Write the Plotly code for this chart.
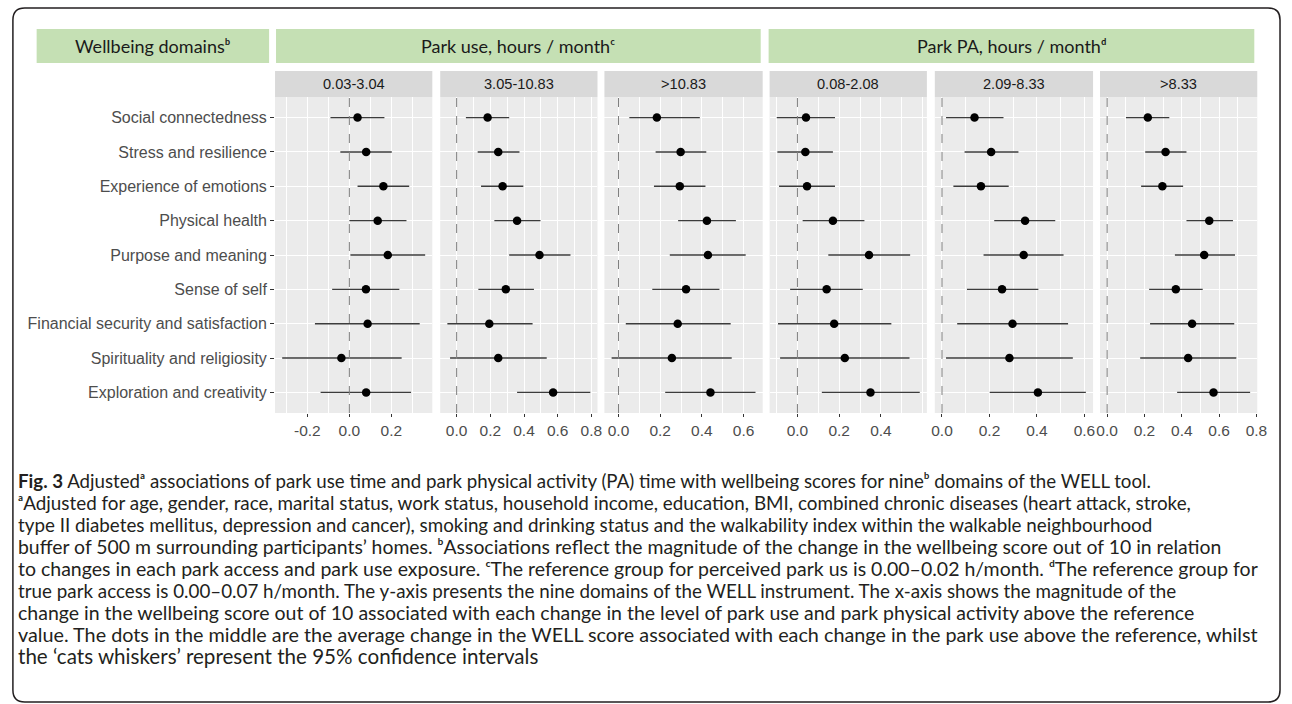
import numpy as np
import plotly.graph_objects as go

W, H = 1292, 704

# ---------------- data ----------------
domains = [
    "Social connectedness",
    "Stress and resilience",
    "Experience of emotions",
    "Physical health",
    "Purpose and meaning",
    "Sense of self",
    "Financial security and satisfaction",
    "Spirituality and religiosity",
    "Exploration and creativity",
]

groups = ["0.03-3.04", "3.05-10.83", ">10.83", "0.08-2.08", "2.09-8.33", ">8.33"]

est_use1 = [0.039, 0.080, 0.162, 0.135, 0.183, 0.079, 0.087, -0.038, 0.080]
lo_use1 = [-0.090, -0.043, 0.039, 0.000, 0.005, -0.082, -0.164, -0.320, -0.137]
hi_use1 = [0.167, 0.202, 0.285, 0.272, 0.361, 0.238, 0.335, 0.249, 0.294]

est_use2 = [0.184, 0.247, 0.273, 0.359, 0.492, 0.292, 0.194, 0.247, 0.573]
lo_use2 = [0.055, 0.125, 0.145, 0.224, 0.312, 0.129, -0.055, -0.039, 0.359]
hi_use2 = [0.312, 0.373, 0.396, 0.498, 0.676, 0.459, 0.451, 0.535, 0.794]

est_use3 = [0.184, 0.298, 0.294, 0.424, 0.429, 0.324, 0.284, 0.256, 0.441]
lo_use3 = [0.052, 0.178, 0.170, 0.286, 0.246, 0.162, 0.035, -0.033, 0.224]
hi_use3 = [0.390, 0.421, 0.417, 0.563, 0.610, 0.484, 0.538, 0.543, 0.657]

est_pa1 = [0.041, 0.038, 0.046, 0.170, 0.343, 0.140, 0.176, 0.227, 0.350]
lo_pa1 = [-0.099, -0.096, -0.088, 0.025, 0.148, -0.035, -0.093, -0.083, 0.117]
hi_pa1 = [0.180, 0.170, 0.180, 0.321, 0.540, 0.313, 0.450, 0.537, 0.586]

est_pa2 = [0.137, 0.207, 0.164, 0.350, 0.344, 0.253, 0.297, 0.284, 0.404]
lo_pa2 = [0.017, 0.095, 0.048, 0.220, 0.175, 0.105, 0.064, 0.017, 0.201]
hi_pa2 = [0.259, 0.322, 0.281, 0.477, 0.512, 0.406, 0.531, 0.551, 0.606]

est_pa3 = [0.218, 0.313, 0.296, 0.547, 0.520, 0.368, 0.455, 0.434, 0.570]
lo_pa3 = [0.101, 0.204, 0.182, 0.425, 0.363, 0.225, 0.230, 0.177, 0.375]
hi_pa3 = [0.333, 0.425, 0.407, 0.674, 0.685, 0.512, 0.681, 0.692, 0.766]

tick_vals = [
    [-0.2, 0.0, 0.2],
    [0.0, 0.2, 0.4, 0.6, 0.8],
    [0.0, 0.2, 0.4, 0.6],
    [0.0, 0.2, 0.4],
    [0.0, 0.2, 0.4, 0.6],
    [0.0, 0.2, 0.4, 0.6, 0.8],
]

header_labels = [
    "Wellbeing domainsᵇ",
    "Park use, hours / monthᶜ",
    "Park PA, hours / monthᵈ",
]

caption_lines = [
    "<b>Fig. 3</b> Adjustedᵃ associations of park use time and park physical activity (PA) time with wellbeing scores for nineᵇ domains of the WELL tool.",
    "ᵃAdjusted for age, gender, race, marital status, work status, household income, education, BMI, combined chronic diseases (heart attack, stroke,",
    "type II diabetes mellitus, depression and cancer), smoking and drinking status and the walkability index within the walkable neighbourhood",
    "buffer of 500 m surrounding participants’ homes. ᵇAssociations reflect the magnitude of the change in the wellbeing score out of 10 in relation",
    "to changes in each park access and park use exposure. ᶜThe reference group for perceived park us is 0.00–0.02 h/month. ᵈThe reference group for",
    "true park access is 0.00–0.07 h/month. The y-axis presents the nine domains of the WELL instrument. The x-axis shows the magnitude of the",
    "change in the wellbeing score out of 10 associated with each change in the level of park use and park physical activity above the reference",
    "value. The dots in the middle are the average change in the WELL score associated with each change in the park use above the reference, whilst",
    "the ‘cats whiskers’ represent the 95% confidence intervals",
]

panels = [
    (est_use1, lo_use1, hi_use1),
    (est_use2, lo_use2, hi_use2),
    (est_use3, lo_use3, hi_use3),
    (est_pa1, lo_pa1, hi_pa1),
    (est_pa2, lo_pa2, hi_pa2),
    (est_pa3, lo_pa3, hi_pa3),
]

# ---------------- layout geometry (pixels) ----------------
def fx(x):
    return x / W

def fy(y):
    return 1 - y / H

panel_px = [(274, 433), (441, 600), (607, 767), (774, 933), (941, 1101), (1108, 1267)]
plot_top, plot_bot = 97, 413
strip_top = 71
header_boxes = [(33, 268), (275, 765), (773, 1264)]
header_top, header_bot = 29, 63
caption_y = [481, 502.5, 524, 546, 568, 590, 612, 634, 656]
caption_size = [18.7, 18.85, 18.8, 19.4, 19.5, 18.8, 19.5, 19.8, 20.6]

AXIS_FONT = "Liberation Sans, Arial, sans-serif"
HEAD_FONT = "Lato, Open Sans, sans-serif"

fig = go.Figure()
layout = dict(
    width=W, height=H, autosize=False,
    margin=dict(l=0, r=0, t=0, b=0),
    paper_bgcolor="white", plot_bgcolor="#EBEBEB",
    font=dict(family=HEAD_FONT, size=13, color="#333333"),
    showlegend=False,
)
shapes = []
annotations = []

for i, (est, lo, hi) in enumerate(panels):
    n = "" if i == 0 else str(i + 1)
    xa, ya = "x" + n, "y" + n
    est_a, lo_a, hi_a = np.array(est), np.array(lo), np.array(hi)
    fig.add_trace(go.Scatter(
        x=est, y=domains, xaxis=xa, yaxis=ya, mode="markers",
        marker=dict(color="black", size=8.5),
        error_x=dict(type="data", symmetric=False,
                     array=list(hi_a - est_a), arrayminus=list(est_a - lo_a),
                     color="#3C3C3C", thickness=1.4, width=0),
        hoverinfo="skip",
    ))
    # range as ggplot: data (incl. the 0 reference line) expanded by 5%
    lmin = min(lo_a.min(), 0.0)
    lmax = max(hi_a.max(), 0.0)
    pad = 0.05 * (lmax - lmin)
    x0p, x1p = panel_px[i]
    tv = tick_vals[i]
    layout["xaxis" + n] = dict(
        domain=[fx(x0p), fx(x1p)], anchor=ya,
        range=[lmin - pad, lmax + pad],
        tickmode="array", tickvals=tv, ticktext=[f"{v:.1f}" for v in tv],
        showgrid=True, gridcolor="white", gridwidth=1.3,
        minor=dict(tickmode="linear", tick0=0, dtick=0.1, showgrid=True,
                   gridcolor="white", gridwidth=0.6, ticks=""),
        zeroline=False, showline=False,
        ticks="outside", ticklen=3, tickwidth=1, tickcolor="#333333",
        tickfont=dict(family=AXIS_FONT, size=15.5, color="#4D4D4D"),
        fixedrange=True,
    )
    layout["yaxis" + n] = dict(
        domain=[fy(plot_bot), fy(plot_top)], anchor=xa,
        type="category", categoryorder="array", categoryarray=domains,
        range=[len(domains) - 0.4, -0.6],
        showgrid=True, gridcolor="white", gridwidth=1.3,
        zeroline=False, showline=False,
        showticklabels=(i == 0),
        ticks="outside" if i == 0 else "", ticklen=4, tickwidth=1, tickcolor="#333333",
        tickfont=dict(family=AXIS_FONT, size=16, color="#4D4D4D"),
        fixedrange=True,
    )
    # dashed reference line at 0
    shapes.append(dict(type="line", xref=xa, yref=ya + " domain",
                       x0=0, x1=0, y0=0, y1=1,
                       line=dict(color="#7F7F7F", width=1, dash="dash"), layer="above"))
    # facet strip
    shapes.append(dict(type="rect", xref="paper", yref="paper",
                       x0=fx(x0p), x1=fx(x1p), y0=fy(plot_top), y1=fy(strip_top),
                       fillcolor="#D9D9D9", line=dict(width=0), layer="below"))
    annotations.append(dict(xref="paper", yref="paper",
                            x=fx((x0p + x1p) / 2), y=fy((plot_top + strip_top) / 2),
                            text=groups[i], showarrow=False,
                            xanchor="center", yanchor="middle",
                            font=dict(family=AXIS_FONT, size=14.6, color="#1A1A1A")))

# green header boxes
for (bx0, bx1), lab in zip(header_boxes, header_labels):
    shapes.append(dict(type="rect", xref="paper", yref="paper",
                       x0=fx(bx0), x1=fx(bx1), y0=fy(header_bot), y1=fy(header_top),
                       fillcolor="#C5E0B4", line=dict(width=0), layer="below"))
    annotations.append(dict(xref="paper", yref="paper",
                            x=fx((bx0 + bx1) / 2), y=fy((header_top + header_bot) / 2),
                            text=lab, showarrow=False, xanchor="center", yanchor="middle",
                            font=dict(family=HEAD_FONT, size=18, color="#1A1A1A")))

# caption
for yy, txt, sz in zip(caption_y, caption_lines, caption_size):
    annotations.append(dict(xref="paper", yref="paper", x=fx(12), y=fy(yy),
                            text=txt, showarrow=False, xanchor="left", yanchor="middle",
                            align="left",
                            font=dict(family=HEAD_FONT, size=sz, color="#231F20")))

# rounded outer frame
bx0, by0, bx1, by1, r = 9, 8, 1290, 702, 12
path = (f"M {fx(bx0 + r)},{fy(by0)} L {fx(bx1 - r)},{fy(by0)} "
        f"Q {fx(bx1)},{fy(by0)} {fx(bx1)},{fy(by0 + r)} "
        f"L {fx(bx1)},{fy(by1 - r)} Q {fx(bx1)},{fy(by1)} {fx(bx1 - r)},{fy(by1)} "
        f"L {fx(bx0 + r)},{fy(by1)} Q {fx(bx0)},{fy(by1)} {fx(bx0)},{fy(by1 - r)} "
        f"L {fx(bx0)},{fy(by0 + r)} Q {fx(bx0)},{fy(by0)} {fx(bx0 + r)},{fy(by0)} Z")
shapes.append(dict(type="path", xref="paper", yref="paper", path=path,
                   line=dict(color="#231F20", width=1.5), layer="below"))

layout["shapes"] = shapes
layout["annotations"] = annotations
fig.update_layout(**layout)
fig.write_html("out.html", config={"displayModeBar": False},
               post_script="document.body.style.margin='0';document.body.style.overflow='hidden';")
